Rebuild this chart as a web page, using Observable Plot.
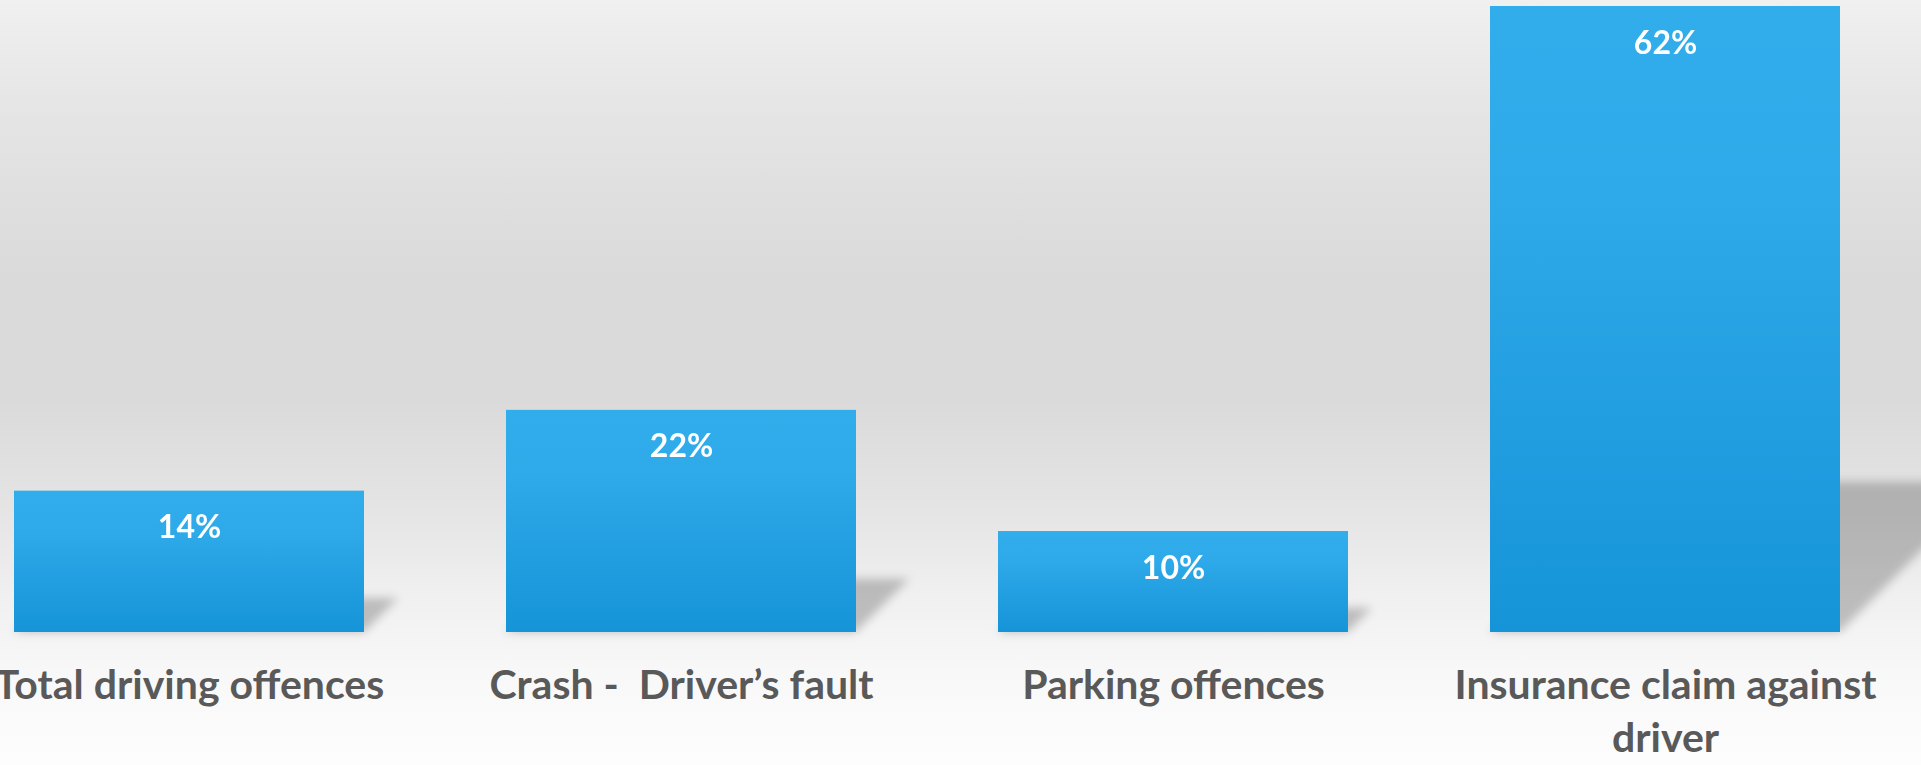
<!DOCTYPE html>
<html>
<head>
<meta charset="utf-8">
<script src="https://cdn.jsdelivr.net/npm/d3@7"></script>
<script src="https://cdn.jsdelivr.net/npm/@observablehq/plot@0.6"></script>
<style>
html, body { margin: 0; padding: 0; overflow: hidden; }
body {
  width: 1921px; height: 765px;
  background: linear-gradient(to bottom, #f0f0f0 0%, #e4e4e4 16%, #dadada 36%, #dadada 52%, #e4e4e4 66%, #f0f0f0 78%, #f8f8f8 88%, #fdfdfd 100%);
}
#chart svg { display: block; }
</style>
</head>
<body>
<svg width="0" height="0" style="position:absolute">
  <defs>
    <linearGradient id="barGrad" x1="0" y1="0" x2="0" y2="1">
      <stop offset="0" stop-color="#31adec"/>
      <stop offset="0.3" stop-color="#2ea9e9"/>
      <stop offset="1" stop-color="#1594d8"/>
    </linearGradient>
    <filter id="shadowBlur" x="-50%" y="-50%" width="200%" height="200%">
      <feGaussianBlur stdDeviation="5"/>
    </filter>
  </defs>
</svg>
<div id="chart"></div>
<script>
const categories = ["Total driving offences", "Crash -  Driver\u2019s fault", "Parking offences", "Insurance claim against driver"];
const tickLabels = ["Total driving offences", "Crash -  Driver\u2019s fault", "Parking offences", "Insurance claim against\ndriver"];
const values = [14, 22, 10, 62];
const valueLabels = ["14%", "22%", "10%", "62%"];

const data = categories.map((c, i) => ({category: c, label: tickLabels[i], value: values[i], valueLabel: valueLabels[i]}));

const chart = Plot.plot({
  width: 1921,
  height: 765,
  marginTop: 0, marginRight: 0, marginBottom: 0, marginLeft: 0,
  style: {background: "transparent", fontFamily: "Lato, 'Open Sans', sans-serif", overflow: "visible"},
  x: {domain: categories, range: [12, 1842], paddingInner: 0.288, paddingOuter: 0, axis: null},
  y: {domain: [0, 62], range: [632, 6], axis: null},
  marks: [
    Plot.barY(data, {x: "category", y: d => d.value * 0.24, fill: "#000", fillOpacity: 0.22}),
    Plot.barY(data, {x: "category", y: "value", fill: "url(#barGrad)"}),
    Plot.text(data, {x: "category", y: "value", text: "valueLabel", lineAnchor: "bottom", dy: 47, fill: "white", fontSize: 32, fontWeight: 700}),
    Plot.text(data, {x: "category", y: 0, text: "label", lineAnchor: "top", dy: 30, fill: "#595959", fontSize: 41, fontWeight: 700, lineHeight: 1.27})
  ]
});

const bars = chart.querySelectorAll("g[aria-label='bar']");
if (bars.length) {
  const shadow = d3.select(bars[0]);
  shadow.attr("filter", "url(#shadowBlur)");
  shadow.selectAll("rect")
    .style("transform-box", "fill-box")
    .style("transform-origin", "left bottom")
    .style("transform", "skewX(-45deg)");
}
document.getElementById("chart").appendChild(chart);
</script>
</body>
</html>
